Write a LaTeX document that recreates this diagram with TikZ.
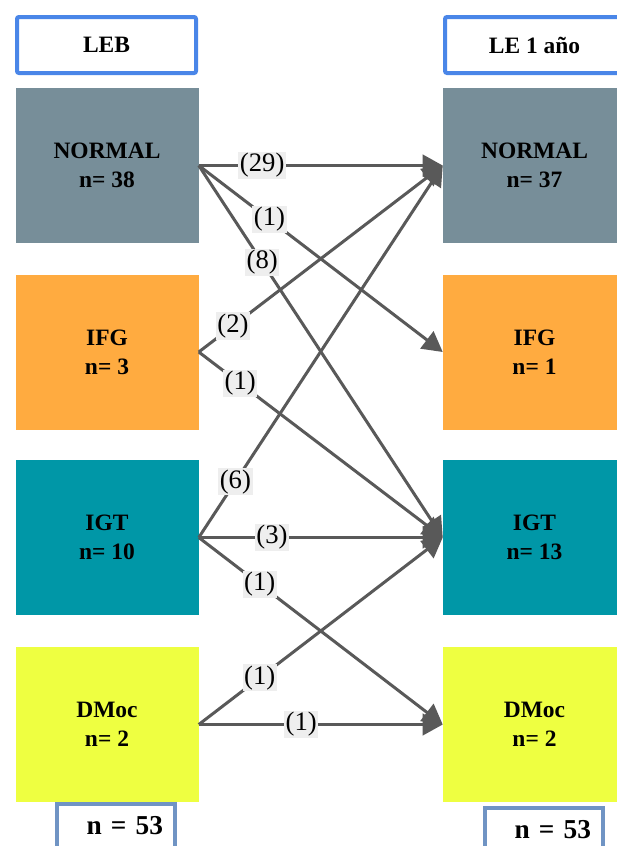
\documentclass[tikz,border=0pt]{standalone}
\usepackage{fontspec}
\setmainfont{Liberation Serif}
\usetikzlibrary{arrows.meta}
\definecolor{normalGray}{HTML}{778E99}
\definecolor{ifgOrange}{HTML}{FFAB40}
\definecolor{igtTeal}{HTML}{0097A7}
\definecolor{dmocYellow}{HTML}{EEFF41}
\definecolor{headBlue}{HTML}{4A86E8}
\definecolor{totalBlue}{HTML}{7094C4}
\definecolor{flowGray}{HTML}{595959}
\definecolor{labelBg}{HTML}{EEEEEE}

\begin{document}
\begin{tikzpicture}[x=0.75pt, y=-0.75pt,
  group/.style={minimum width=137.25pt, minimum height=116.25pt, inner sep=0pt,
    align=center, font=\fontsize{17.6}{21.75}\selectfont\bfseries},
  head/.style={draw=headBlue, line width=3pt, rounded corners=1.5pt, fill=white,
    minimum width=134.25pt, minimum height=42pt, inner sep=0pt,
    font=\fontsize{17.6}{21}\selectfont\bfseries},
  total/.style={draw=totalBlue, line width=3pt, fill=white, minimum height=33pt,
    inner xsep=9pt, inner ysep=0pt, text width=70.5pt, align=right,
    font=\fontsize{20.5}{24}\selectfont\bfseries},
  flow/.style={draw=flowGray, line width=2.25pt, -{Triangle[length=15pt,width=16pt]}},
  count/.style={fill=labelBg, inner sep=1.2pt, font=\fontsize{20}{24}\selectfont}]
  \useasboundingbox (0,0) rectangle (617,846);

  % column titles
  \node[head] (leb) at (106.5,45) {LEB};
  \node[head] (le1) at (534.5,45) {LE 1 año};

  % baseline groups
  \node[group, fill=normalGray] (lnormal) at (107,165.5) {NORMAL\\n= 38};
  \node[group, fill=ifgOrange]  (lifg)    at (107,352)   {IFG\\n= 3};
  \node[group, fill=igtTeal]    (ligt)    at (107,537.5) {IGT\\n= 10};
  \node[group, fill=dmocYellow] (ldmoc)   at (107,724.5) {DMoc\\n= 2};

  % groups after one year
  \node[group, fill=normalGray] (rnormal) at (534.5,165.5) {NORMAL\\n= 37};
  \node[group, fill=ifgOrange]  (rifg)    at (534.5,352)   {IFG\\n= 1};
  \node[group, fill=igtTeal]    (rigt)    at (534.5,537.5) {IGT\\n= 13};
  \node[group, fill=dmocYellow] (rdmoc)   at (534.5,724.5) {DMoc\\n= 2};

  % totals
  \node[total] (ltotal) at (116,826) {n = 53};
  \node[total] (rtotal) at (544,830) {n = 53};

  % transitions
  \draw[flow] (lnormal.east) -- node[count, pos=0.26] {(29)} (rnormal.west);
  \draw[flow] (lnormal.east) -- node[count, pos=0.29] {(1)} (rifg.west);
  \draw[flow] (lnormal.east) -- node[count, pos=0.26] {(8)} (rigt.west);
  \draw[flow] (lifg.east) -- node[count, pos=0.14] {(2)} (rnormal.west);
  \draw[flow] (lifg.east) -- node[count, pos=0.17] {(1)} (rigt.west);
  \draw[flow] (ligt.east) -- node[count, pos=0.15] {(6)} (rnormal.west);
  \draw[flow] (ligt.east) -- node[count, pos=0.30] {(3)} (rigt.west);
  \draw[flow] (ligt.east) -- node[count, pos=0.25] {(1)} (rdmoc.west);
  \draw[flow] (ldmoc.east) -- node[count, pos=0.25] {(1)} (rigt.west);
  \draw[flow] (ldmoc.east) -- node[count, pos=0.42] {(1)} (rdmoc.west);
\end{tikzpicture}
\end{document}
